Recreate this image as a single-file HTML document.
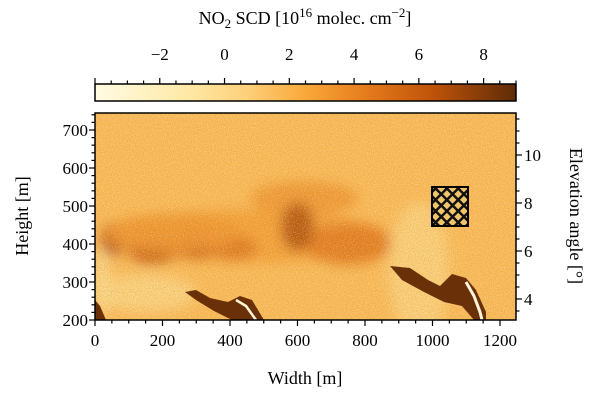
<!DOCTYPE html>
<html><head><meta charset="utf-8"><style>
html,body{margin:0;padding:0;background:#fff;}
svg{display:block;font-family:"Liberation Serif",serif;}
</style></head><body>
<svg id="c" width="600" height="401" viewBox="0 0 600 401">
<defs>
<linearGradient id="cmap" x1="0" x2="1" y1="0" y2="0">
<stop offset="0" stop-color="#fffbe3"/><stop offset="0.22" stop-color="#fee9a6"/>
<stop offset="0.36" stop-color="#fdd07a"/><stop offset="0.5" stop-color="#f9a83a"/>
<stop offset="0.65" stop-color="#e47a1c"/><stop offset="0.8" stop-color="#bf540a"/>
<stop offset="1" stop-color="#5e2b08"/></linearGradient>
<filter id="blur" x="-50%" y="-50%" width="200%" height="200%"><feGaussianBlur stdDeviation="6"/></filter>
<filter id="noise"><feTurbulence type="fractalNoise" baseFrequency="0.95" numOctaves="2" seed="3"/>
<feColorMatrix type="matrix" values="0 0 0 0 0.6  0 0 0 0 0.3  0 0 0 0 0.05  0 0 0 2.2 -0.95"/></filter>
<filter id="noise2"><feTurbulence type="fractalNoise" baseFrequency="0.9" numOctaves="1" seed="9"/>
<feColorMatrix type="matrix" values="0 0 0 0 1  0 0 0 0 0.95  0 0 0 0 0.8  0 0 0 2.2 -1.0"/></filter>
<pattern id="hatch" width="8" height="8" patternUnits="userSpaceOnUse" patternTransform="rotate(45)">
<rect width="8" height="8" fill="#f2c46a"/><rect width="2.5" height="8" fill="#111"/><rect width="8" height="2.5" fill="#111"/></pattern>
<clipPath id="pc"><rect x="95" y="113" width="421" height="207"/></clipPath>
</defs>
<g id="plot" clip-path="url(#pc)"></g>
<rect x="95" y="113" width="421" height="207" fill="none" stroke="#000" stroke-width="1.5"/>
<rect x="95" y="84" width="421" height="17" fill="url(#cmap)" stroke="#000" stroke-width="1.5"/>
<g id="axes"></g>
<text x="305" y="24" text-anchor="middle" font-size="18">NO<tspan font-size="13" dy="4">2</tspan><tspan dy="-4"> SCD [10</tspan><tspan font-size="13" dy="-7">16</tspan><tspan dy="7"> molec. cm</tspan><tspan font-size="13" dy="-7">−2</tspan><tspan dy="7">]</tspan></text>
<text x="305" y="384" text-anchor="middle" font-size="18">Width [m]</text>
<text transform="translate(28,216) rotate(-90)" text-anchor="middle" font-size="18">Height [m]</text>
<text transform="translate(570,216) rotate(90)" text-anchor="middle" font-size="18">Elevation angle [°]</text>
</svg>
<script>
const xTicks=[0,200,400,600,800,1000,1200];
const yTicks=[200,300,400,500,600,700];
const elevTicks=[4,6,8,10];
const cbTicks=[-2,0,2,4,6,8];
const bgValue=1.7;
// plume blobs: [width m, height m, radius-x m, radius-y m, SCD value]
const blobX=[450,620,750,50,170,300,410,600,150,960,20,230];
const blobY=[420,520,400,410,385,400,390,445,270,330,300,430];
const blobRX=[420,160,130,35,75,65,70,50,150,90,25,200];
const blobRY=[70,45,55,45,38,38,32,65,50,180,90,50];
const blobV=[3.0,3.4,4.6,6.6,6.0,6.2,4.8,6.8,0.4,0.6,0.0,3.4];

const NS='http://www.w3.org/2000/svg';
const svg=document.getElementById('c'),plot=document.getElementById('plot'),axes=document.getElementById('axes');
const xs=m=>95+m*0.3375, ys=h=>320-(h-200)*0.38, es=e=>299-(e-4)*24, cs=v=>95+(v+4)*(421/13);
const stops=[[-4,[255,251,227]],[-1.14,[254,233,166]],[0.68,[253,208,122]],[2.5,[249,168,58]],[4.45,[228,122,28]],[6.4,[191,84,10]],[9,[94,43,8]]];
function col(v){v=Math.max(-4,Math.min(9,v));for(let i=1;i<stops.length;i++){if(v<=stops[i][0]){const a=stops[i-1],b=stops[i],t=(v-a[0])/(b[0]-a[0]);return 'rgb('+a[1].map((c,k)=>Math.round(c+(b[1][k]-c)*t)).join(',')+')';}}return 'rgb(94,43,8)';}
function mk(tag,attrs,parent){const e=document.createElementNS(NS,tag);for(const k in attrs)e.setAttribute(k,attrs[k]);(parent||svg).appendChild(e);return e;}

const bg=mk('rect',{x:95,y:113,width:421,height:207,fill:col(bgValue)},plot);


const bl=mk('g',{filter:'url(#blur)'},plot);
for(let i=0;i<blobX.length;i++){
  const e=mk('ellipse',{cx:xs(blobX[i]),cy:ys(blobY[i]),rx:blobRX[i]*0.3375,ry:blobRY[i]*0.38,fill:col(blobV[i]),opacity:0.9},bl);
  
  
}
mk('rect',{x:95,y:113,width:421,height:207,filter:'url(#noise)',opacity:0.6},plot);
mk('rect',{x:95,y:113,width:421,height:207,filter:'url(#noise2)',opacity:0.4},plot);
// terrain ridges (decoration)
const ridges=[
 "185,292 196,290 210,298 228,302 240,296 252,300 264,320 232,320 214,311 196,300",
 "390,266 410,268 428,280 440,286 452,274 466,278 476,290 486,312 486,320 474,320 462,306 444,302 424,292 402,280",
 "95,300 100,306 106,320 95,320"];
ridges.forEach(p=>{const r=mk('polygon',{points:p,fill:'#6a3008'},plot);
 
 });
mk('polyline',{points:"466,282 474,296 480,312 482,320",fill:'none',stroke:'#fff4d8','stroke-width':3},plot);
mk('polyline',{points:"236,300 246,306 256,320",fill:'none',stroke:'#fff4d8','stroke-width':2.5},plot);
const hs=mk('rect',{x:432,y:187,width:36,height:39,fill:'url(#hatch)',stroke:'#000','stroke-width':2},plot);



function tick(x1,y1,x2,y2){mk('line',{x1,y1,x2,y2,stroke:'#000','stroke-width':1.2},axes);}
function label(x,y,t,anchor,name){const e=mk('text',{x,y,'text-anchor':anchor,'font-size':17},axes);e.textContent=t;
 
 }
for(let m=0;m<=1247;m+=50){const x=xs(m),L=m%200===0?6:3.5;tick(x,320,x,320+L);}
xTicks.forEach(m=>label(xs(m),346,String(m),'middle','x-tick-label'));
for(let h=200;h<=745;h+=20){const y=ys(h),L=h%100===0?6:3.5;tick(95,y,95-L,y);}
yTicks.forEach(h=>label(88,ys(h)+6,String(h),'end','y-tick-label'));
for(let e=3.5;e<=11.5;e+=0.5){const y=es(e);if(y<113||y>320)continue;const L=Number.isInteger(e)&&e%2===0?6:3.5;tick(516,y,516+L,y);}
elevTicks.forEach(e=>label(524,es(e)+6,String(e),'start','elevation-tick-label'));
for(let v=-4;v<=9;v+=0.5){const x=cs(v),L=Number.isInteger(v)&&v%2===0?6:3.5;tick(x,84,x,84-L);}
cbTicks.forEach(v=>label(cs(v),60,v<0?'−'+(-v):String(v),'middle','colorbar-tick-label'));
</script>
</body></html>
